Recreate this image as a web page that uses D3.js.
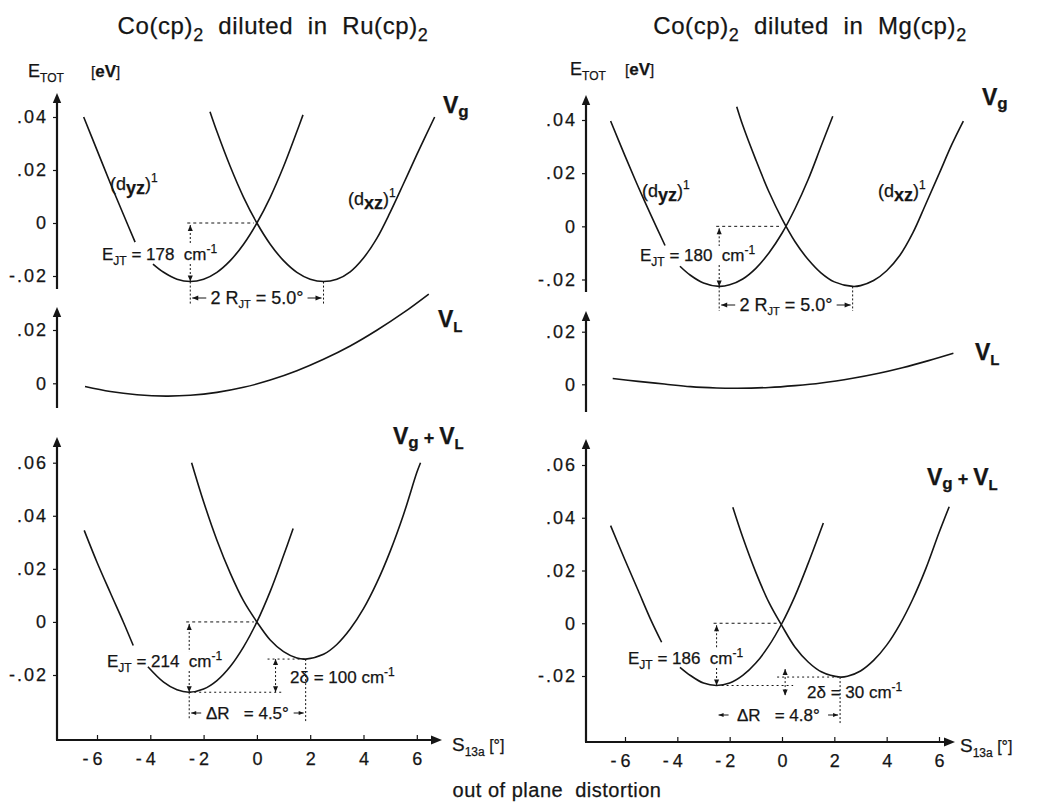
<!DOCTYPE html>
<html><head><meta charset="utf-8">
<script src="https://cdn.jsdelivr.net/npm/d3@7"></script>
<style>
body{margin:0;background:#fff;}
svg text{font-family:"Liberation Sans",Arial,Helvetica,sans-serif;fill:#151515;stroke:#151515;stroke-width:0.25px;white-space:pre;}
</style></head><body>
<svg id="c" width="1050" height="807"></svg>
<script>
// ---------------- data ----------------
const xTicks = [-6,-4,-2,0,2,4,6];
const yTicksVg = [-0.02,0,0.02,0.04];
const yTicksVL = [0,0.02];
const yTicksSum = [-0.02,0,0.02,0.04,0.06];
const hosts = ["Ru","Mg"];
const ejtVg = [178,180];
const ejtSum = [214,186];
const twoRjt = ["5.0","5.0"];
const deltaR = ["4.5","4.8"];
const twoDelta = [100,30];

// Co(cp)2 in Ru(cp)2  [x (deg), E (eV)] ; null = gap in the drawn line
const ruVgDyz = [[-6.5,0.040],[-6.0,0.0275],[-5.5,0.015],[-5.0,0.003],[-4.57,-0.0072],null,
  [-3.9,-0.0155],[-3.5,-0.0186],[-3.0,-0.0212],[-2.5,-0.0221],[-2.0,-0.0212],[-1.5,-0.0186],
  [-1.0,-0.0142],[-0.5,-0.0080],[0,0],[0.5,0.0097],[1.0,0.0213],[1.5,0.0345],[1.73,0.0408]];
const ruVgDxz = [[-1.76,0.042],[-1.5,0.0345],[-1.0,0.0213],[-0.5,0.0097],[0,0],[0.5,-0.0080],
  [1.0,-0.0142],[1.5,-0.0186],[2.0,-0.0212],[2.5,-0.0221],[3.0,-0.0212],[3.5,-0.0184],
  [4.0,-0.0132],[4.5,-0.0058],[5.0,0.0040],[5.5,0.0148],[6.0,0.0258],[6.67,0.0400]];
const ruVL = [[-6.45,-0.0012],[-5.5,-0.0031],[-4.5,-0.0043],[-3.4,-0.0048],[-2.5,-0.0045],
  [-1.5,-0.0034],[-0.5,-0.0015],[0.5,0.0012],[1.5,0.0047],[2.5,0.0090],[3.5,0.0140],
  [4.5,0.0199],[5.5,0.0265],[6.45,0.0335]];
const ruSumDyz = [[-6.48,0.0345],[-6.0,0.0225],[-5.5,0.011],[-5.0,-0.0003],[-4.64,-0.0089],null,
  [-4.09,-0.0169],[-3.5,-0.0227],[-3.0,-0.0256],[-2.54,-0.0265],[-2.0,-0.0253],[-1.5,-0.0221],
  [-1.0,-0.0168],[-0.5,-0.0094],[0,0],[0.5,0.0115],[1.0,0.025],[1.36,0.0352]];
const ruSumDxz = [[-2.45,0.060],[-2.0,0.0453],[-1.5,0.0308],[-1.0,0.0184],[-0.5,0.0079],[0,0],
  [0.5,-0.0068],[1.0,-0.0112],[1.5,-0.0136],[1.83,-0.0140],[2.5,-0.0122],[3.0,-0.0085],
  [3.5,-0.0027],[4.0,0.0050],[4.5,0.0148],[5.0,0.0266],[5.5,0.0404],[6.0,0.0563],[6.14,0.060]];

// Co(cp)2 in Mg(cp)2
const mgVgDyz = [[-6.55,0.0396],[-6.0,0.0265],[-5.5,0.015],[-5.0,0.004],[-4.47,-0.0072],null,
  [-3.9,-0.0150],[-3.5,-0.0184],[-3.0,-0.0213],[-2.4,-0.0226],[-2.0,-0.0220],[-1.5,-0.0198],
  [-1.0,-0.0158],[-0.5,-0.0100],[0,-0.0026],[0.5,0.0067],[1.0,0.0176],[1.5,0.0303],[1.94,0.0414]];
const mgVgDxz = [[-1.73,0.045],[-1.5,0.038],[-1.0,0.025],[-0.5,0.013],[0,0.0028],[0.5,-0.0058],
  [1.0,-0.0125],[1.5,-0.0176],[2.0,-0.0209],[2.7,-0.0226],[3.0,-0.0223],[3.5,-0.0204],
  [4.0,-0.0167],[4.5,-0.0110],[5.0,-0.0025],[5.5,0.0085],[6.0,0.0197],[6.5,0.0310],[6.93,0.0396]];
const mgVL = [[-6.47,0.0022],[-5.5,0.0011],[-4.5,0.0001],[-3.5,-0.0009],[-2.5,-0.0014],
  [-1.7,-0.0015],[-0.5,-0.0012],[0.5,-0.0005],[1.5,0.0005],[2.7,0.0023],[3.7,0.0042],
  [4.6,0.0063],[5.6,0.0090],[6.55,0.0118]];
const mgSumDyz = [[-6.55,0.037],[-6.0,0.024],[-5.5,0.0125],[-5.0,0.001],[-4.6,-0.0072],null,
  [-3.9,-0.0167],[-3.5,-0.0198],[-3.0,-0.0227],[-2.5,-0.0236],[-2.0,-0.0227],[-1.5,-0.0198],
  [-1.0,-0.0151],[-0.5,-0.0085],[0,0],[0.5,0.0104],[1.0,0.0227],[1.58,0.038]];
const mgSumDxz = [[-1.88,0.044],[-1.5,0.0326],[-1.0,0.0193],[-0.5,0.0079],[0,-0.001],
  [0.5,-0.0091],[1.0,-0.0147],[1.5,-0.0184],[2.22,-0.0204],[2.5,-0.0201],[3.0,-0.0181],
  [3.5,-0.0141],[4.0,-0.0083],[4.5,-0.0005],[5.0,0.0092],[5.5,0.0208],[6.0,0.0343],[6.39,0.0442]];

// ---------------- drawing ----------------
const svg = d3.select("#c");
const INK = "#151515";
const FONT = '"Liberation Sans",Arial,Helvetica,sans-serif';

function rich(g, x, y, parts, o={}) {
  const t = g.append("text").attr("x", x).attr("y", y)
    .attr("font-size", o.size || 17).attr("text-anchor", o.anchor || "start");
  if (o.bold) t.attr("font-weight", "bold");
  if (o.ls != null) t.attr("letter-spacing", o.ls);
  let cur = 0;
  parts.forEach(p => {
    if (typeof p === "string") p = {t: p};
    const sh = p.sh || 0;
    const ts = t.append("tspan").attr("dy", sh - cur).text(p.t);
    if (p.size) ts.attr("font-size", p.size);
    if (p.bold != null) ts.attr("font-weight", p.bold ? "bold" : "normal");
    cur = sh;
  });
  return t;
}
function seg(g, x1, y1, x2, y2, dash, w) {
  g.append("line").attr("x1", x1).attr("y1", y1).attr("x2", x2).attr("y2", y2)
    .attr("stroke", INK).attr("stroke-width", w || 1)
    .attr("stroke-dasharray", dash ? (dash === true ? "3,3" : dash) : null);
}
function arrow(g, x, y, dir, s) {
  s = s || 6; const w = s * 0.42; let p;
  if (dir === "up") p = [[x,y],[x-w,y+s],[x+w,y+s]];
  if (dir === "down") p = [[x,y],[x-w,y-s],[x+w,y-s]];
  if (dir === "left") p = [[x,y],[x+s,y-w],[x+s,y+w]];
  if (dir === "right") p = [[x,y],[x-s,y-w],[x-s,y+w]];
  g.append("path").attr("d", "M" + p.join("L") + "Z").attr("fill", INK);
}
const fmtY = d => d === 0 ? "0" : (d < 0 ? "-" : "") + "." + String(Math.round(Math.abs(d) * 100)).padStart(2, "0");
const minOf = arr => d3.least(arr.filter(Boolean), d => d[1]);

const sides = [
  { h: 0, x: d3.scaleLinear().domain([-6,6]).range([97,416.8]), ax: 57, xAxisY: 740, xEnd: 442,
    titleX: 273, eX: 28, eY: 77, eVX: 91, sX: 452, sY: 751,
    panels: [
      { kind: "vg", yd: [-0.02,0.04], yr: [276,117], axis: [289,93], ticks: yTicksVg,
        curves: [ruVgDyz, ruVgDxz], lab: [443,113],
        dyzLab: [110,190], dxzLab: [348,205], ejtLab: [102,260], rArrowY: 298 },
      { kind: "vl", yd: [0,0.02], yr: [383.3,330], axis: [408,307], ticks: yTicksVL,
        curves: [ruVL], lab: [438,327] },
      { kind: "sum", yd: [-0.02,0.06], yr: [675,462.7], axis: [740,437], ticks: yTicksSum,
        curves: [ruSumDyz, ruSumDxz], lab: [393,444],
        ejtLab: [107,667], vxVal: 0.7, dLab: [290,683], drY: 713 }
    ]},
  { h: 1, x: d3.scaleLinear().domain([-6,6]).range([625,939]), ax: 586, xAxisY: 742, xEnd: 955,
    titleX: 810, eX: 570, eY: 75, eVX: 625, sX: 960, sY: 752,
    panels: [
      { kind: "vg", yd: [-0.02,0.04], yr: [279.5,120], axis: [292,95], ticks: yTicksVg,
        curves: [mgVgDyz, mgVgDxz], lab: [982,105],
        dyzLab: [642,197], dxzLab: [878,197], ejtLab: [640,261], rArrowY: 305 },
      { kind: "vl", yd: [0,0.02], yr: [384.3,331.7], axis: [412,311], ticks: yTicksVL,
        curves: [mgVL], lab: [975,360] },
      { kind: "sum", yd: [-0.02,0.06], yr: [676,465], axis: [742,439], ticks: yTicksSum,
        curves: [mgSumDyz, mgSumDxz], lab: [927,485],
        ejtLab: [628,664], vxVal: 0.12, dLab: [807,698], drY: 715 }
    ]}
];

sides.forEach(S => {
  const g = svg.append("g");
  const x = S.x;
  // title
  rich(g, S.titleX, 34, ["Co(cp)", {t:"2", sh:7, size:18}, {t:"  diluted  in  " + hosts[S.h] + "(cp)", sh:0}, {t:"2", sh:7, size:18}],
    {size: 24, anchor: "middle", ls: 0.6});
  // E_TOT label
  rich(g, S.eX, S.eY, ["E", {t:"TOT", sh:5, size:12}], {size: 18});
  rich(g, S.eVX, S.eY, [{t:"[", size:15}, {t:"eV", bold:true}, {t:"]", size:15}], {size: 17});

  S.panels.forEach(P => {
    const y = d3.scaleLinear().domain(P.yd).range(P.yr);
    // y axis
    const ga = g.append("g").attr("transform", `translate(${S.ax},0)`)
      .call(d3.axisLeft(y).tickValues(P.ticks).tickFormat(fmtY).tickSize(4).tickPadding(5));
    ga.select(".domain").remove();
    ga.attr("font-size", 18).attr("font-family", FONT);
    ga.selectAll("text").attr("fill", INK).attr("letter-spacing", 2);
    ga.selectAll("line").attr("stroke", INK).attr("stroke-width", 1.2);
    seg(g, S.ax, P.axis[0], S.ax, P.axis[1] + 6, false, 2.2);
    arrow(g, S.ax, P.axis[1], "up", 10);

    // curves
    const line = d3.line().defined(d => d).x(d => x(d[0])).y(d => y(d[1]))
      .curve(d3.curveCatmullRom.alpha(0.5));
    P.curves.forEach(c => g.append("path").attr("d", line(c)).attr("fill", "none")
      .attr("stroke", INK).attr("stroke-width", 1.6));

    // V labels
    if (P.kind === "vg") rich(g, P.lab[0], P.lab[1], ["V", {t:"g", sh:4, size:17}], {size: 23, bold: true});
    if (P.kind === "vl") rich(g, P.lab[0], P.lab[1], ["V", {t:"L", sh:5, size:15}], {size: 23, bold: true});
    if (P.kind === "sum") rich(g, P.lab[0], P.lab[1],
      ["V", {t:"g", sh:4, size:17}, {t:" + ", sh:0, size:18}, "V", {t:"L", sh:5, size:15}], {size: 23, bold: true});

    if (P.kind === "vg" || P.kind === "sum") {
      const [dyz, dxz] = P.curves;
      const ma = minOf(dyz), mb = minOf(dxz);
      const xa = x(ma[0]), ya = y(ma[1]), xb = x(mb[0]), yb = y(mb[1]);
      const y0 = y(0), xc = x(0);
      const ejt = P.kind === "vg" ? ejtVg[S.h] : ejtSum[S.h];
      // Jahn-Teller energy marker
      seg(g, xa - 3, y0, xc - 3, y0, "3,3");
      const bl = P.ejtLab[1];
      seg(g, xa, y0 + 2, xa, bl - 15, "2,2");
      arrow(g, xa, y0 + 2, "up", 6);
      seg(g, xa, bl + 4, xa, ya, "2,2");
      arrow(g, xa, ya, "down", 6);
      rich(g, P.ejtLab[0], bl, ["E", {t:"JT", sh:5, size:12}, {t:" = " + ejt + "  cm", sh:0},
        {t:"-1", sh:-7, size:12}], {size: 17});

      if (P.kind === "vg") {
        // (d_yz)^1 and (d_xz)^1
        rich(g, P.dyzLab[0], P.dyzLab[1], ["(d", {t:"yz", sh:4, bold:true}, {t:")", sh:0}, {t:"1", sh:-8, size:12}], {size: 18});
        rich(g, P.dxzLab[0], P.dxzLab[1], ["(d", {t:"xz", sh:4, bold:true}, {t:")", sh:0}, {t:"1", sh:-8, size:12}], {size: 18});
        // 2 R_JT dimension
        const ay = P.rArrowY;
        seg(g, xa, ya, xa, ay + 6, "2,2");
        seg(g, xb, yb, xb, ay + 6, "2,2");
        seg(g, xa + 2, ay, xa + 16, ay, false, 1); arrow(g, xa + 2, ay, "left", 6);
        seg(g, xb - 16, ay, xb - 2, ay, false, 1); arrow(g, xb - 2, ay, "right", 6);
        rich(g, (xa + xb) / 2, ay + 6, ["2 R", {t:"JT", sh:4, size:11}, {t:" = " + twoRjt[S.h] + "°", sh:0}],
          {size: 18, anchor: "middle"});
      } else {
        // 2 delta marker
        const vx = x(P.vxVal);
        seg(g, xa, ya, vx + 8, ya, "2,3");
        seg(g, vx - 8, yb, xb, yb, "2,3");
        const t2 = S.h === 0 ? yb : yb - 8, b2 = S.h === 0 ? ya : ya + 10;
        seg(g, vx, t2, vx, b2, "2,2");
        arrow(g, vx, t2, "up", 6); arrow(g, vx, b2, "down", 6);
        rich(g, P.dLab[0], P.dLab[1], ["2δ = " + twoDelta[S.h] + " cm", {t:"-1", sh:-7, size:12}], {size: 17});
        // Delta R dimension
        const ry = P.drY;
        if (S.h === 0) seg(g, xa, ya, xa, ry + 6, "2,2");
        seg(g, xb, yb, xb, ry + 10, "2,2");
        seg(g, xa + 2, ry, xa + 12, ry, false, 1); arrow(g, xa + 2, ry, "left", 5);
        seg(g, xb - 12, ry, xb - 2, ry, false, 1); arrow(g, xb - 2, ry, "right", 5);
        rich(g, (xa + xb) / 2, ry + 6, ["ΔR   = " + deltaR[S.h] + "°"], {size: 17, anchor: "middle"});
      }
    }
  });

  // x axis (bottom panel)
  const gx = g.append("g").attr("transform", `translate(0,${S.xAxisY})`)
    .call(d3.axisBottom(x).tickValues(xTicks).tickSizeInner(-5).tickSizeOuter(0).tickPadding(12)
      .tickFormat(d => Math.abs(d)));
  gx.select(".domain").remove();
  gx.attr("font-size", 18).attr("font-family", FONT);
  gx.selectAll("text").attr("fill", INK);
  gx.selectAll("line").attr("stroke", INK).attr("stroke-width", 1.2);
  gx.selectAll(".tick").filter(d => d < 0).append("text")
    .attr("x", -9).attr("y", 12).attr("dy", "0.71em").attr("text-anchor", "end").attr("fill", INK).text("-");
  seg(g, S.ax - 1, S.xAxisY, S.xEnd - 6, S.xAxisY, false, 2.2);
  arrow(g, S.xEnd, S.xAxisY, "right", 11);
  rich(g, S.sX, S.sY, ["S", {t:"13a", sh:5, size:12}, {t:" [°]", sh:0, size:16}], {size: 19});
});

rich(svg, 557, 797, ["out of plane  distortion"], {size: 20, anchor: "middle", ls: 0.5});
</script></body></html>
